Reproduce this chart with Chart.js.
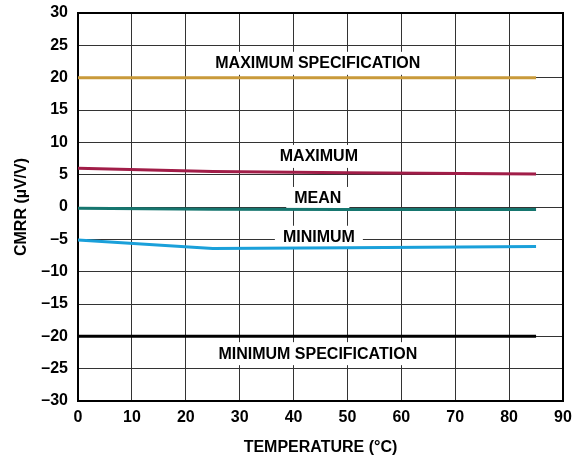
<!DOCTYPE html>
<html lang="en">
<head>
  <meta charset="UTF-8">
  <script src="https://cdn.jsdelivr.net/npm/chart.js"></script>
  <title>CMRR vs Temperature</title>
  <style>
    html, body { margin: 0; padding: 0; background: #fff; }
    #wrap { width: 572px; height: 457px; }
  </style>
</head>
<body>
  <div id="wrap"><canvas id="grafico" width="572" height="457"></canvas></div>

  <script>
    // data
    const temps = [0, 25, 50, 85];
    const maxSpec = [20, 20, 20, 20];
    const maximum = [6.0, 5.5, 5.3, 5.1];
    const mean = [-0.2, -0.35, -0.4, -0.4];
    const minimum = [-5.1, -6.4, -6.3, -6.1];
    const minSpec = [-20, -20, -20, -20];

    const seriesNames = ['MAXIMUM SPECIFICATION', 'MAXIMUM', 'MEAN', 'MINIMUM', 'MINIMUM SPECIFICATION'];
    const labelX = [44.5, 44.7, 44.5, 44.7, 44.5];
    const labelY = [22.3, 7.9, 1.4, -4.6, -22.6];

    const FONT = '"Liberation Sans", Arial, sans-serif';
    const puntos = (vals) => temps.map((t, i) => ({ x: t, y: vals[i] }));

    const etiquetas = {
      id: 'etiquetas',
      beforeDatasetsDraw(chart) {
        const { ctx, chartArea: a, scales: { x, y } } = chart;
        ctx.save();
        ctx.font = 'bold 16px ' + FONT;
        ctx.textAlign = 'center';
        ctx.textBaseline = 'middle';
        seriesNames.forEach((txt, i) => {
          const px = x.getPixelForValue(labelX[i]);
          const py = y.getPixelForValue(labelY[i]);
          const w = ctx.measureText(txt).width;
          ctx.fillStyle = '#fff';
          ctx.fillRect(px - w / 2 - 8, py - 11, w + 16, 23);
          ctx.fillStyle = '#000';
          ctx.fillText(txt, px, py + 1);
        });
        ctx.strokeStyle = '#000';
        ctx.lineWidth = 2;
        ctx.strokeRect(a.left, a.top, a.right - a.left, a.bottom - a.top);
        ctx.restore();
      }
    };

    const serie = (vals, color) => ({
      data: puntos(vals),
      borderColor: color,
      borderWidth: 3,
      pointRadius: 0,
      tension: 0,
      fill: false
    });

    new Chart(document.getElementById('grafico'), {
      type: 'line',
      data: {
        datasets: [
          serie(maxSpec, '#c99a3a'),
          serie(maximum, '#a11d48'),
          serie(mean, '#16766f'),
          serie(minimum, '#1aa0da'),
          serie(minSpec, '#000000')
        ]
      },
      options: {
        responsive: false,
        animation: false,
        layout: { padding: { top: 13, right: 9, left: 0, bottom: 0 } },
        plugins: { legend: { display: false }, tooltip: { enabled: false } },
        scales: {
          x: {
            type: 'linear',
            min: 0, max: 90,
            afterFit: s => { s.height = 56; s.paddingLeft = 0; s.paddingRight = 0; },
            ticks: { stepSize: 10, color: '#000', padding: 7, maxRotation: 0,
                     font: { family: FONT, size: 16, weight: 'bold' } },
            grid: { color: '#333', lineWidth: 1, drawTicks: false },
            border: { color: '#000', width: 2 },
            title: { display: true, text: 'TEMPERATURE (°C)', color: '#000', padding: { top: 0, bottom: 0 },
                     font: { family: FONT, size: 16, weight: 'bold' } }
          },
          y: {
            min: -30, max: 30,
            afterFit: s => { s.width = 78; s.paddingTop = 0; s.paddingBottom = 0; },
            ticks: { stepSize: 5, color: '#000', padding: 10,
                     callback: v => v < 0 ? '\u2013' + Math.abs(v) : String(v),
                     font: { family: FONT, size: 16, weight: 'bold' } },
            grid: { color: '#333', lineWidth: 1, drawTicks: false },
            border: { color: '#000', width: 2 },
            title: { display: true, text: 'CMRR (µV/V)', color: '#000', padding: { top: 12, bottom: 0 },
                     font: { family: FONT, size: 16, weight: 'bold' } }
          }
        }
      },
      plugins: [etiquetas]
    });
  </script>
</body>
</html>
